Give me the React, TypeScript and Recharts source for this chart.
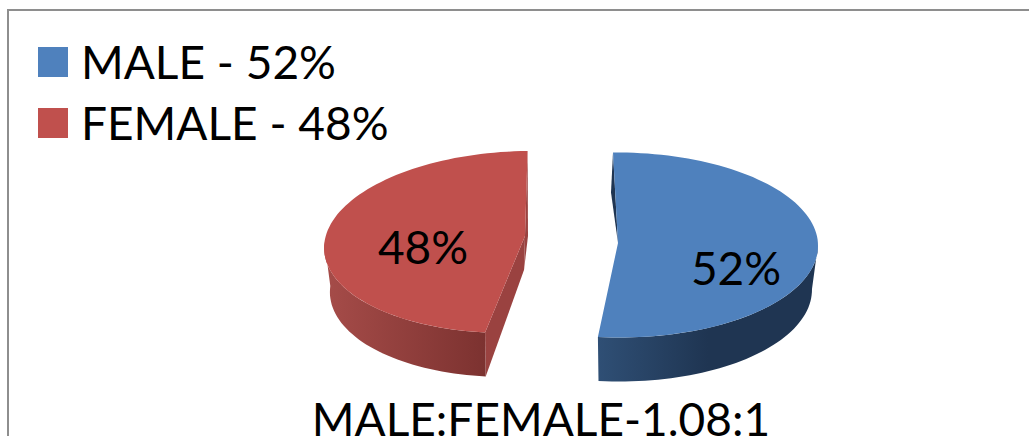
import { Legend, Pie, PieChart, Cell } from "recharts";

const categories = ["MALE", "FEMALE"];
const shares = [52, 48];
const chartTitle = "MALE:FEMALE-1.08:1";

const rows = categories.map((name, i) => ({ name, value: shares[i] }));

const WIDTH = 1029;
const HEIGHT = 436;
const FONT = "Lato, 'Open Sans', sans-serif";
const FONT_SIZE = 46;
const RAD = Math.PI / 180;

const FILLS = ["#4f81bd", "#c0504d"];

// how each wedge is pulled out of the pie and tilted into perspective
const WEDGES: Record<string, any> = {
	MALE: {
		faceX: 618, faceY: 245, apexX: 618, apexY: 243, rxScale: 1, ry: 92.5, skew: -1.5,
		depth: 44, bottomRx: 0.97, bottomX: 0,
		wallFrom: "#2f4f75", wallTo: "#1f3552", innerWall: "#1f3552",
		labelX: 736, labelY: 267,
	},
	FEMALE: {
		faceX: 518.5, faceY: 242, apexX: 525, apexY: 236, rxScale: 0.97, ry: 91, skew: 12.5,
		depth: 44, bottomRx: 0.97, bottomX: 0,
		wallFrom: "#a64c49", wallTo: "#7c3230", innerWall: "#9a4240",
		labelX: 423, labelY: 246,
	},
};

function facePoint(w: any, radius: number, deg: number) {
	const u = Math.cos(deg * RAD);
	const v = Math.sin(deg * RAD);
	return [w.faceX + radius * w.rxScale * u + w.skew * v, w.faceY - w.ry * v];
}

function bottomPoint(w: any, radius: number, deg: number) {
	const u = Math.cos(deg * RAD);
	const v = Math.sin(deg * RAD);
	return [
		w.faceX + w.bottomX + radius * w.rxScale * w.bottomRx * u + w.skew * v,
		w.faceY + w.depth - w.ry * v,
	];
}

function toPath(points: number[][]) {
	return (
		"M" + points.map((p) => `${p[0].toFixed(1)} ${p[1].toFixed(1)}`).join("L") + "Z"
	);
}

function sweep(from: number, to: number) {
	const out: number[] = [];
	const steps = Math.max(2, Math.ceil(Math.abs(to - from) / 2));
	for (let i = 0; i <= steps; i++) out.push(from + ((to - from) * i) / steps);
	return out;
}

function WedgeShape(props: any) {
	const { name, startAngle, endAngle, outerRadius, fill } = props;
	const w = WEDGES[name];
	const arc = sweep(startAngle, endAngle).map((a) => facePoint(w, outerRadius, a));
	const apex = [w.apexX, w.apexY];

	// outer wall only shows on the lower half of the rim
	const low = Math.min(startAngle, endAngle);
	const high = Math.max(startAngle, endAngle);
	const wallAngles = sweep(Math.min(high, 0), Math.max(low, -180));
	const wall = [
		...wallAngles.map((a) => facePoint(w, outerRadius, a)),
		...wallAngles
			.slice()
			.reverse()
			.map((a) => bottomPoint(w, outerRadius, a)),
	];

	const gradId = `wall-${name}`;
	const first = arc[0];
	const last = arc[arc.length - 1];
	const firstLow = bottomPoint(w, outerRadius, startAngle);

	return (
		<g>
			<defs>
				<linearGradient id={gradId} x1="0" y1="0" x2="1" y2="0">
					<stop offset="0" stopColor={w.wallFrom} />
					<stop offset={name === "MALE" ? "0.5" : "1"} stopColor={w.wallTo} />
					<stop offset="1" stopColor={w.wallTo} />
				</linearGradient>
			</defs>
			{name === "FEMALE" ? (
				<>
					<path d={toPath([first, apex, [apex[0] - 1, apex[1] + 34], firstLow])} fill={w.innerWall} />
					<path d={toPath([last, [apex[0] + 3, apex[1]], [apex[0] - 1, apex[1] + 34], apex])} fill={w.innerWall} />
				</>
			) : (
				<path d={toPath([first, apex, [first[0] - 2, first[1] + 40]])} fill={w.innerWall} />
			)}
			<path d={toPath(wall)} fill={`url(#${gradId})`} />
			<path d={toPath([apex, ...arc])} fill={fill} />
		</g>
	);
}

function renderSliceLabel(props: any) {
	const w = WEDGES[props.name];
	return (
		<text
			x={w.labelX}
			y={w.labelY}
			textAnchor="middle"
			dominantBaseline="central"
			fontFamily={FONT}
			fontSize={FONT_SIZE}
			fill="#000"
		>
			{props.value}%
		</text>
	);
}

function renderLegend(props: any) {
	return (
		<div>
			{props.payload.map((entry: any) => (
				<div
					key={entry.value}
					style={{ display: "flex", alignItems: "center", height: 61 }}
				>
					<span
						style={{ width: 30, height: 30, marginRight: 13, background: entry.color }}
					/>
					<span style={{ fontFamily: FONT, fontSize: FONT_SIZE, color: "#000" }}>
						{entry.value} - {entry.payload.value}%
					</span>
				</div>
			))}
		</div>
	);
}

export default function App() {
	return (
		<div
			style={{
				position: "fixed",
				left: 0,
				top: 0,
				width: WIDTH,
				height: HEIGHT,
				overflow: "hidden",
				background: "#fff",
			}}
		>
			<div
				style={{
					position: "absolute",
					left: 7,
					top: 9,
					width: WIDTH + 40,
					height: HEIGHT + 40,
					border: "2px solid #8e8e8e",
				}}
			/>
			<PieChart
				width={WIDTH}
				height={HEIGHT}
				margin={{ top: 0, right: 0, bottom: 0, left: 0 }}
				style={{ position: "absolute", left: 0, top: 0 }}
			>
				<Legend
					content={renderLegend}
					layout="vertical"
					verticalAlign="top"
					align="left"
					itemSorter={null}
					wrapperStyle={{ left: 38, top: 31, width: 420 }}
				/>
				<Pie
					data={rows}
					dataKey="value"
					nameKey="name"
					cx={572}
					cy={243}
					outerRadius={200}
					startAngle={91}
					endAngle={-269}
					stroke="none"
					shape={WedgeShape}
					inactiveShape={WedgeShape}
					label={renderSliceLabel}
					labelLine={false}
					isAnimationActive={false}
				>
					{rows.map((row, i) => (
						<Cell key={row.name} fill={FILLS[i]} />
					))}
				</Pie>
				<text
					x={541}
					y={436}
					textAnchor="middle"
					fontFamily={FONT}
					fontSize={FONT_SIZE}
					fill="#000"
				>
					{chartTitle}
				</text>
			</PieChart>
		</div>
	);
}
